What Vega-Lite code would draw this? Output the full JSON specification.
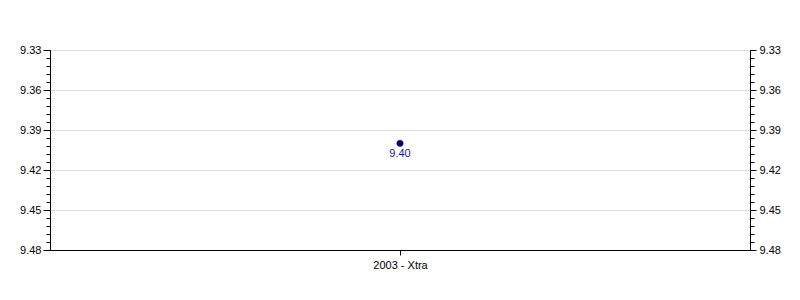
{
  "$schema": "https://vega.github.io/schema/vega-lite/v6.json",
  "width": 700,
  "height": 200,
  "autosize": {"type": "none"},
  "padding": {"left": 50, "top": 50, "right": 50, "bottom": 50},
  "background": "white",
  "config": {
    "view": {"stroke": "black", "strokeWidth": 1},
    "font": "Liberation Sans",
    "axis": {"labelFont": "Liberation Sans", "labelFontSize": 11, "labelColor": "black", "domainColor": "black", "tickColor": "black", "titleFontSize": 11}
  },
  "data": {"values": [{"category": "2003 - Xtra", "value": 9.40}]},
  "encoding": {
    "x": {
      "field": "category", "type": "nominal",
      "scale": {"type": "point", "padding": 0.5},
      "axis": {"title": null, "labelAngle": 0, "tickSize": 5, "labelPadding": 4, "domainColor": "black", "grid": false}
    }
  },
  "layer": [
    {
      "mark": {"type": "point", "filled": true, "color": "#000080", "size": 40, "opacity": 1, "stroke": "#000040", "strokeWidth": 0.5},
      "encoding": {
        "y": {
          "field": "value", "type": "quantitative",
          "scale": {"domain": [9.33, 9.48], "reverse": true, "zero": false, "nice": false},
          "axis": {
            "orient": "left", "title": null,
            "values": [9.33, 9.336, 9.342, 9.348, 9.354, 9.36, 9.366, 9.372, 9.378, 9.384, 9.39, 9.396, 9.402, 9.408, 9.414, 9.42, 9.426, 9.432, 9.438, 9.444, 9.45, 9.456, 9.462, 9.468, 9.474, 9.48],
            "labelExpr": "round(datum.value*1000) % 30 == 0 ? format(datum.value, '.2f') : ''",
            "tickSize": {"condition": {"test": "round(datum.value*1000) % 30 == 0", "value": 7}, "value": 4},
            "labelPadding": 2,
            "grid": true,
            "gridColor": "#dcdcdc",
            "gridOpacity": {"condition": {"test": "round(datum.value*1000) % 30 == 0", "value": 1}, "value": 0},
            "labelOverlap": false,
            "labelFlush": false
          }
        }
      }
    },
    {
      "mark": {"type": "point", "opacity": 0},
      "encoding": {
        "y": {
          "field": "value", "type": "quantitative",
          "axis": {
            "orient": "right", "title": null,
            "values": [9.33, 9.336, 9.342, 9.348, 9.354, 9.36, 9.366, 9.372, 9.378, 9.384, 9.39, 9.396, 9.402, 9.408, 9.414, 9.42, 9.426, 9.432, 9.438, 9.444, 9.45, 9.456, 9.462, 9.468, 9.474, 9.48],
            "labelExpr": "round(datum.value*1000) % 30 == 0 ? format(datum.value, '.2f') : ''",
            "tickSize": {"condition": {"test": "round(datum.value*1000) % 30 == 0", "value": 6}, "value": 4},
            "labelPadding": 3,
            "grid": false,
            "labelOverlap": false,
            "labelFlush": false
          }
        }
      }
    },
    {
      "mark": {"type": "text", "dy": 11, "color": "#1a1a99", "fontSize": 11, "font": "Liberation Sans"},
      "encoding": {
        "y": {"field": "value", "type": "quantitative", "axis": null},
        "text": {"field": "value", "type": "quantitative", "format": ".2f"}
      }
    }
  ],
  "resolve": {"scale": {"y": "shared"}, "axis": {"y": "independent"}}
}
